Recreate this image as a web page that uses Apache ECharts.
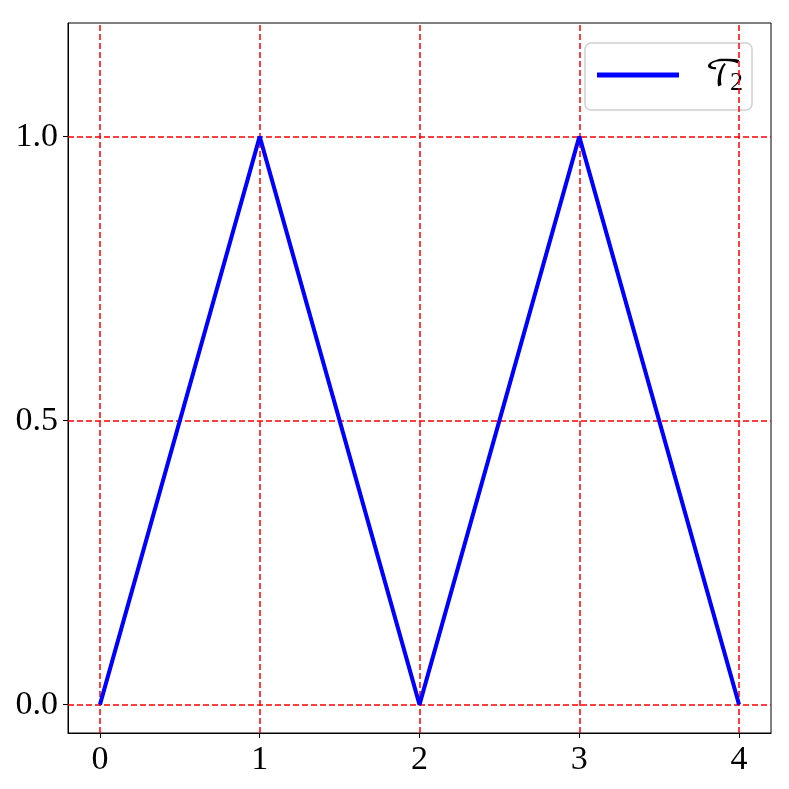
<!DOCTYPE html>
<html>
<head>
<meta charset="utf-8">
<script src="https://cdn.jsdelivr.net/npm/echarts@6/dist/echarts.min.js"></script>
<style>
  html, body { margin: 0; padding: 0; background: #fff; }
  #chart { width: 789px; height: 789px; }
</style>
</head>
<body>
<div id="chart"></div>
<script>
const xValues = [0, 1, 2, 3, 4];
const yValues = [0, 1, 0, 1, 0];
const xTicks = [0, 1, 2, 3, 4];
const yTicks = [0, 0.5, 1.0];
const seriesName = "T2";

const serif = "'Liberation Serif', 'DejaVu Serif', serif";
const mathFont = "'DejaVu Math TeX Gyre', 'DejaVu Serif', 'Liberation Serif', serif";

const chart = echarts.init(document.getElementById("chart"), null, { renderer: "canvas" });

const gridLineStyle = { color: "#ff0000", width: 1.5, type: [6, 3] };

chart.setOption({
    backgroundColor: "#fff",
    animation: false,
    grid: {
        left: 68, right: 18, top: 23, bottom: 56,
        show: true, borderColor: "#000", borderWidth: 1, backgroundColor: "transparent"
    },
    legend: {
        right: 37, top: 43,
        data: [seriesName],
        icon: "rect",
        itemWidth: 82,
        itemHeight: 5,
        itemGap: 10,
        padding: [14, 9, 14, 12],
        backgroundColor: "rgba(255,255,255,0.8)",
        borderColor: "#d0d0d0",
        borderWidth: 1.5,
        borderRadius: 6,
        formatter: () => "{t|\u{1D4AF}}{s|2}",
        textStyle: {
            padding: [0, 0, 0, 21],
            rich: {
                t: { fontFamily: mathFont, fontSize: 36, color: "#000", lineHeight: 40, width: 25, align: "left" },
                s: { fontFamily: serif, fontSize: 26, color: "#000", padding: [16, 0, 0, 0] }
            }
        }
    },
    xAxis: {
        type: "value",
        min: -0.2, max: 4.2,
        axisLine: { show: true, onZero: false, lineStyle: { color: "#000", width: 1 } },
        axisTick: { show: true, customValues: xTicks, length: 5, lineStyle: { color: "#000", width: 1 } },
        axisLabel: {
            customValues: xTicks,
            margin: 10,
            color: "#000",
            fontFamily: serif,
            fontSize: 34,
            formatter: v => String(v)
        },
        splitLine: { show: false }
    },
    yAxis: {
        type: "value",
        min: -0.05, max: 1.2,
        axisLine: { show: true, onZero: false, lineStyle: { color: "#000", width: 1 } },
        axisTick: { show: true, customValues: yTicks, length: 5, lineStyle: { color: "#000", width: 1 } },
        axisLabel: {
            customValues: yTicks,
            margin: 10,
            color: "#000",
            fontFamily: serif,
            fontSize: 34,
            formatter: v => v.toFixed(1)
        },
        splitLine: { show: false }
    },
    series: [
        {
            name: "grid",
            type: "line",
            data: [],
            z: 1,
            silent: true,
            markLine: {
                silent: true,
                symbol: ["none", "none"],
                label: { show: false },
                lineStyle: gridLineStyle,
                data: [
                    ...xTicks.map(v => ({ xAxis: v })),
                    ...yTicks.map(v => ({ yAxis: v }))
                ]
            }
        },
        {
            name: seriesName,
            type: "line",
            z: 5,
            data: xValues.map((x, i) => [x, yValues[i]]),
            showSymbol: false,
            symbol: "none",
            lineStyle: { color: "#0000ff", width: 4 },
            itemStyle: { color: "#0000ff" }
        }
    ]
});
</script>
</body>
</html>
